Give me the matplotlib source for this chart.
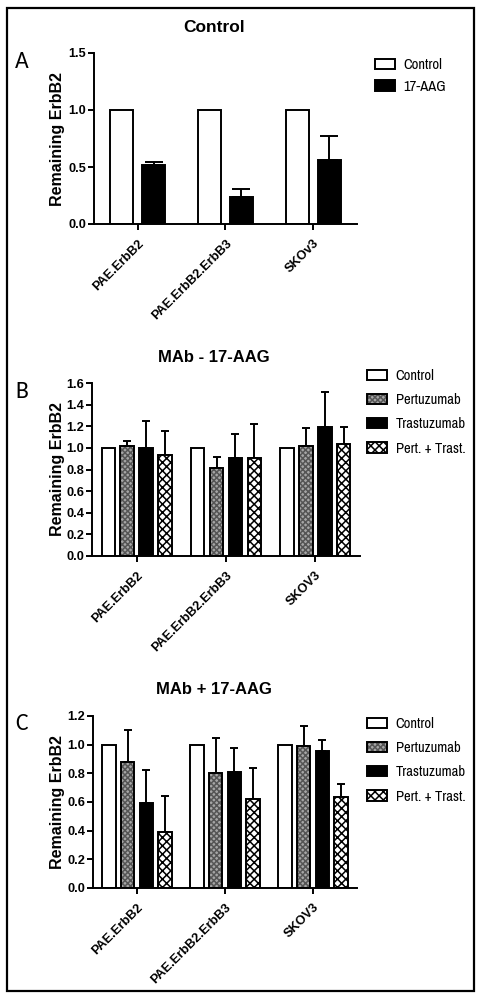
import matplotlib
matplotlib.use("Agg")
import matplotlib.pyplot as plt
import numpy as np
from matplotlib.patches import Rectangle, Patch
from matplotlib.legend_handler import HandlerTuple

# ---------------- data ----------------
cats_a = ["PAE.ErbB2", "PAE.ErbB2.ErbB3", "SKOv3"]
cats_bc = ["PAE.ErbB2", "PAE.ErbB2.ErbB3", "SKOV3"]

a_control = [1.0, 1.0, 1.0]
a_aag = [0.52, 0.235, 0.56]
a_aag_err = [0.025, 0.075, 0.21]

b_control = [1.0, 1.0, 1.0]
b_pert = [1.02, 0.81, 1.015]
b_pert_err = [0.04, 0.11, 0.165]
b_trast = [1.0, 0.91, 1.19]
b_trast_err = [0.25, 0.22, 0.33]
b_pt = [0.93, 0.91, 1.04]
b_pt_err = [0.23, 0.31, 0.15]

c_control = [1.0, 1.0, 1.0]
c_pert = [0.88, 0.80, 0.99]
c_pert_err = [0.225, 0.245, 0.14]
c_trast = [0.595, 0.81, 0.955]
c_trast_err = [0.23, 0.17, 0.075]
c_pt = [0.39, 0.62, 0.635]
c_pt_err = [0.25, 0.215, 0.09]

titles = ["Control", "MAb - 17-AAG", "MAb + 17-AAG"]
letters = ["A", "B", "C"]
ylabel = "Remaining ErbB2"
legend_a = ["Control", "17-AAG"]
legend_bc = ["Control", "Pertuzumab", "Trastuzumab", "Pert. + Trast."]

# ---------------- style ----------------
plt.rcParams["font.family"] = ["Liberation Sans", "DejaVu Sans"]
plt.rcParams["hatch.linewidth"] = 1.1
NARROW = ["Liberation Sans Narrow", "Arimo Narrow", "Archivo Narrow",
          "Roboto Condensed", "PT Sans Narrow", "Liberation Sans"]
LETTER = ["Carlito", "Lato", "DejaVu Sans"]

W, H = 482, 1000
fig = plt.figure(figsize=(W / 100, H / 100), dpi=100)

def axes_px(l, r, top, bot):
    return fig.add_axes([l / W, 1 - bot / H, (r - l) / W, (bot - top) / H])

# kind: 0 control (white), 1 pertuzumab (grey fine), 2 black, 3 checker
def kind_layers(k):
    if k == 0:
        return [dict(facecolor="white", edgecolor="black", linewidth=1.4)]
    if k == 1:
        return [dict(facecolor="#a6a6a6", edgecolor="#555555", hatch="xxxxxx", linewidth=0),
                dict(fill=False, edgecolor="black", linewidth=1.4)]
    if k == 2:
        return [dict(facecolor="black", edgecolor="black", linewidth=1.4)]
    return [dict(facecolor="white", edgecolor="black", hatch="xxxx", linewidth=1.4)]

def style_axes(ax, ymax, step, cats, lab_x):
    for s in ["top", "right"]:
        ax.spines[s].set_visible(False)
    for s in ["left", "bottom"]:
        ax.spines[s].set_linewidth(1.4)
    ax.set_xlim(-0.5, 2.5)
    ax.set_ylim(0, ymax)
    yt = np.arange(0, ymax + 1e-9, step)
    ax.set_yticks(yt)
    ax.set_yticklabels([f"{v:.1f}" for v in yt], fontsize=9.2, fontweight="bold")
    ax.set_xticks(range(len(cats)))
    ax.set_xticklabels(cats, rotation=45, ha="right", va="top",
                       rotation_mode="anchor", fontsize=9.2, fontweight="bold")
    ax.tick_params(axis="both", direction="out", length=4.5, width=1.4, pad=1)
    ax.tick_params(axis="x", pad=5)
    ax.set_ylabel(ylabel, fontsize=11.5, fontweight="bold")
    ax.yaxis.set_label_coords(lab_x, 0.5)

def draw_bars(ax, series, errs, kinds, width, step, capsize):
    n = len(series)
    x = np.arange(3)
    for i, (vals, err, k) in enumerate(zip(series, errs, kinds)):
        off = (i - (n - 1) / 2) * step
        for layer in kind_layers(k):
            ax.bar(x + off, vals, width=width, zorder=2, **layer)
        if err is not None:
            ax.errorbar(x + off, vals, yerr=[np.zeros(3), err], fmt="none",
                        ecolor="black", elinewidth=1.4, capsize=capsize,
                        capthick=1.4, zorder=1)

def legend(labels, kinds, x, y, spacing):
    handles = []
    for k in kinds:
        layers = [Patch(**lay) for lay in kind_layers(k)]
        handles.append(tuple(layers))
    fig.legend(handles=handles, labels=labels, loc="upper left",
               bbox_to_anchor=(x / W, 1 - y / H), frameon=False,
               handler_map={tuple: HandlerTuple(ndivide=1, pad=0)},
               handlelength=1.37, handleheight=0.7, labelspacing=spacing,
               handletextpad=0.6, borderaxespad=0, borderpad=0,
               prop=dict(family=NARROW, size=10.5))

# Panel A
axA = axes_px(94, 357, 53, 224)
draw_bars(axA, [a_control, a_aag], [None, a_aag_err], [0, 2], 0.26, 0.365, 6.5)
style_axes(axA, 1.5, 0.5, cats_a, (65 - 94) / 263)
legend(legend_a, [0, 2], 375, 58, 0.52)

# Panel B
axB = axes_px(92, 360, 383, 556)
draw_bars(axB, [b_control, b_pert, b_trast, b_pt],
          [None, b_pert_err, b_trast_err, b_pt_err], [0, 1, 2, 3], 0.15, 0.212, 3.0)
style_axes(axB, 1.6, 0.2, cats_bc, (65 - 92) / 268)
legend(legend_bc, [0, 1, 2, 3], 367, 369, 0.7)

# Panel C
axC = axes_px(93, 357, 716, 888)
draw_bars(axC, [c_control, c_pert, c_trast, c_pt],
          [None, c_pert_err, c_trast_err, c_pt_err], [0, 1, 2, 3], 0.15, 0.212, 3.0)
style_axes(axC, 1.2, 0.2, cats_bc, (65 - 93) / 264)
legend(legend_bc, [0, 1, 2, 3], 367, 717, 0.7)

# titles and letters
for t, yy, fs in zip(titles, [27, 357, 690], [12.5, 12, 12]):
    fig.text(214 / W, 1 - yy / H, t, ha="center", va="center",
             fontsize=fs, fontweight="bold")
for l, yy in zip(letters, [61, 392, 723]):
    fig.text(15 / W, 1 - yy / H, l, ha="left", va="center",
             fontsize=17, family=LETTER)

# outer border
fig.add_artist(Rectangle((7 / W, 1 - 991 / H), (474 - 7) / W, (991 - 8) / H,
                         transform=fig.transFigure, fill=False,
                         edgecolor="black", linewidth=1.6))

fig.savefig("out.png", dpi=100)
